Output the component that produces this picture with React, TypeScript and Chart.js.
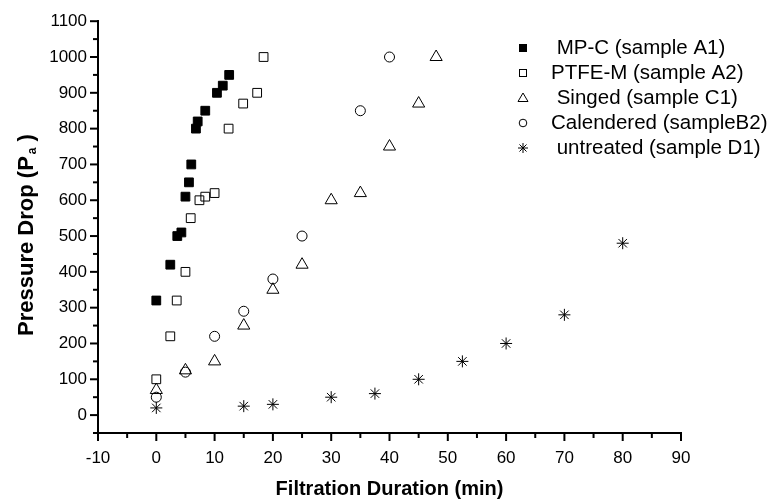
import React, { useEffect, useRef } from 'react';
import { Chart, registerables } from 'chart.js';

Chart.register(...registerables);

// ---- Data ----
const mpcX = [0, 2.4, 3.6, 4.3, 5, 5.6, 6, 6.8, 7.1, 8.4, 10.4, 11.4, 12.5];
const mpcY = [320, 420, 500, 510, 610, 650, 700, 800, 820, 850, 900, 920, 950];

const ptfeX = [0, 2.4, 3.5, 5, 5.9, 7.4, 8.4, 10, 12.4, 14.9, 17.3, 18.4];
const ptfeY = [100, 220, 320, 400, 550, 600, 610, 620, 800, 870, 900, 1000];

const singedX = [0, 5, 10, 15, 20, 25, 30, 35, 40, 45, 48];
const singedY = [70, 125, 150, 250, 350, 420, 600, 620, 750, 870, 1000];

const calX = [0, 5, 10, 15, 20, 25, 35, 40];
const calY = [50, 120, 220, 290, 380, 500, 850, 1000];

const untrX = [0, 15, 20, 30, 37.5, 45, 52.5, 60, 70, 80];
const untrY = [20, 25, 30, 50, 60, 100, 150, 200, 280, 480];

const legendLabels = [
  ' MP-C (sample A1)',
  'PTFE-M (sample A2)',
  ' Singed (sample C1)',
  'Calendered (sampleB2)',
  ' untreated (sample D1)',
];

const xTitle = 'Filtration Duration (min)';
const yTitleMain = 'Pressure Drop (P';
const yTitleSub = 'a';
const yTitleTail = ' )';

const FONT = '"Liberation Sans", Arial, Helvetica, sans-serif';

const toPoints = (xs: number[], ys: number[]) => xs.map((x, i) => ({ x, y: ys[i] }));

type Marker = 'filledRect' | 'rect' | 'triangle' | 'circle' | 'star';
const markers: Marker[] = ['filledRect', 'rect', 'triangle', 'circle', 'star'];

function drawLegendMarker(ctx: CanvasRenderingContext2D, m: Marker, x: number, y: number) {
  ctx.save();
  ctx.strokeStyle = '#000';
  ctx.fillStyle = '#000';
  ctx.lineWidth = 1;
  ctx.beginPath();
  if (m === 'filledRect') {
    ctx.fillRect(x - 4, y - 4, 8, 8);
  } else if (m === 'rect') {
    ctx.strokeRect(x - 3.5, y - 3.5, 7, 7);
  } else if (m === 'triangle') {
    ctx.moveTo(x, y - 5);
    ctx.lineTo(x + 5, y + 3.5);
    ctx.lineTo(x - 5, y + 3.5);
    ctx.closePath();
    ctx.stroke();
  } else if (m === 'circle') {
    ctx.arc(x, y, 3.8, 0, Math.PI * 2);
    ctx.stroke();
  } else {
    const r = 5;
    const d = r * Math.SQRT1_2;
    ctx.moveTo(x, y - r); ctx.lineTo(x, y + r);
    ctx.moveTo(x - r, y); ctx.lineTo(x + r, y);
    ctx.moveTo(x - d, y - d); ctx.lineTo(x + d, y + d);
    ctx.moveTo(x - d, y + d); ctx.lineTo(x + d, y - d);
    ctx.stroke();
  }
  ctx.restore();
}

const decorPlugin = {
  id: 'decor',
  afterDraw(chart: any) {
    const { ctx, chartArea } = chart;
    const xs = chart.scales.x;
    const ys = chart.scales.y;
    ctx.save();
    ctx.strokeStyle = '#000';
    ctx.lineWidth = 2;
    // x ticks (major every 10, minor every 5), outward
    const xt = xs.ticks.map((t: any) => t.value);
    for (let i = 0; i < xt.length; i++) {
      const px = xs.getPixelForValue(xt[i]);
      ctx.beginPath();
      ctx.moveTo(px, chartArea.bottom);
      ctx.lineTo(px, chartArea.bottom + 8);
      ctx.stroke();
      if (i < xt.length - 1) {
        const pm = xs.getPixelForValue((xt[i] + xt[i + 1]) / 2);
        ctx.beginPath();
        ctx.moveTo(pm, chartArea.bottom);
        ctx.lineTo(pm, chartArea.bottom + 5);
        ctx.stroke();
      }
    }
    // y ticks: major every 100, minor every 50
    ys.ticks.forEach((t: any) => {
      const py = ys.getPixelForValue(t.value);
      const major = Math.abs(t.value % 100) < 1e-6;
      ctx.beginPath();
      ctx.moveTo(chartArea.left, py);
      ctx.lineTo(chartArea.left - (major ? 8 : 5), py);
      ctx.stroke();
    });

    // y title with subscript
    ctx.fillStyle = '#000';
    ctx.translate(27, 235);
    ctx.rotate(-Math.PI / 2);
    ctx.textBaseline = 'middle';
    ctx.textAlign = 'left';
    const mainFont = 'bold 22px ' + FONT;
    const subFont = 'bold 12px ' + FONT;
    ctx.font = mainFont;
    const w1 = ctx.measureText(yTitleMain).width;
    const w3 = ctx.measureText(yTitleTail).width;
    ctx.font = subFont;
    const w2 = ctx.measureText(yTitleSub).width;
    const total = w1 + w2 + w3 + 2;
    let sx = -total / 2;
    ctx.font = mainFont;
    ctx.fillText(yTitleMain, sx, 0);
    sx += w1 + 2;
    ctx.font = subFont;
    ctx.fillText(yTitleSub, sx, 6);
    sx += w2;
    ctx.font = mainFont;
    ctx.fillText(yTitleTail, sx, 0);
    ctx.restore();

    // legend
    ctx.save();
    ctx.font = '20.5px ' + FONT;
    ctx.textBaseline = 'middle';
    ctx.textAlign = 'left';
    ctx.fillStyle = '#000';
    legendLabels.forEach((lab, i) => {
      const y = 48 + i * 25;
      drawLegendMarker(ctx, markers[i], 523, y);
      ctx.fillText(lab, 551, y);
    });
    ctx.restore();
  },
};

export default function App() {
  const ref = useRef<HTMLCanvasElement | null>(null);

  useEffect(() => {
    if (!ref.current) return;
    const common = { borderColor: '#000', borderWidth: 1, pointHoverRadius: 0 };
    const chart = new Chart(ref.current, {
      type: 'scatter',
      data: {
        datasets: [
          { label: legendLabels[0], data: toPoints(mpcX, mpcY), pointStyle: 'rect', pointRadius: 6.2, backgroundColor: '#000', ...common },
          { label: legendLabels[1], data: toPoints(ptfeX, ptfeY), pointStyle: 'rect', pointRadius: 6.2, backgroundColor: 'rgba(0,0,0,0)', ...common },
          { label: legendLabels[2], data: toPoints(singedX, singedY), pointStyle: 'triangle', pointRadius: 7, backgroundColor: 'rgba(0,0,0,0)', ...common },
          { label: legendLabels[3], data: toPoints(calX, calY), pointStyle: 'circle', pointRadius: 5, backgroundColor: 'rgba(0,0,0,0)', ...common },
          { label: legendLabels[4], data: toPoints(untrX, untrY), pointStyle: 'star', pointRadius: 6, backgroundColor: 'rgba(0,0,0,0)', ...common },
        ] as any,
      },
      options: {
        animation: false,
        responsive: false,
        events: [],
        layout: { padding: { top: 19, right: 94, left: 0, bottom: 0 } },
        plugins: { legend: { display: false }, tooltip: { enabled: false } },
        scales: {
          x: {
            type: 'linear',
            min: -10,
            max: 90,
            ticks: { stepSize: 10, autoSkip: false, maxRotation: 0, padding: 15, color: '#000', font: { family: FONT, size: 17 } },
            grid: { display: false, drawTicks: false },
            border: { display: true, color: '#000', width: 2 },
            title: { display: true, text: xTitle, color: '#000', font: { family: FONT, size: 20, weight: 'bold' }, padding: { top: 0, bottom: 0 } },
            afterFit: (s: any) => { s.height = 68; },
          },
          y: {
            type: 'linear',
            min: -50,
            max: 1100,
            ticks: {
              stepSize: 50,
              autoSkip: false,
              padding: 11,
              color: '#000',
              font: { family: FONT, size: 17 },
              callback: (v: any) => {
                const n = Number(v);
                return n >= 0 && Math.abs(n % 100) < 1e-6 ? String(n) : '';
              },
            },
            grid: { display: false, drawTicks: false },
            border: { display: true, color: '#000', width: 2 },
            afterFit: (s: any) => { s.width = 98; },
          },
        },
      } as any,
      plugins: [decorPlugin],
    });
    return () => chart.destroy();
  }, []);

  return (
    <div style={{ position: 'absolute', left: 0, top: 0, width: 775, height: 501, background: '#fff' }}>
      <canvas ref={ref} width={775} height={501} style={{ display: 'block' }} />
    </div>
  );
}
